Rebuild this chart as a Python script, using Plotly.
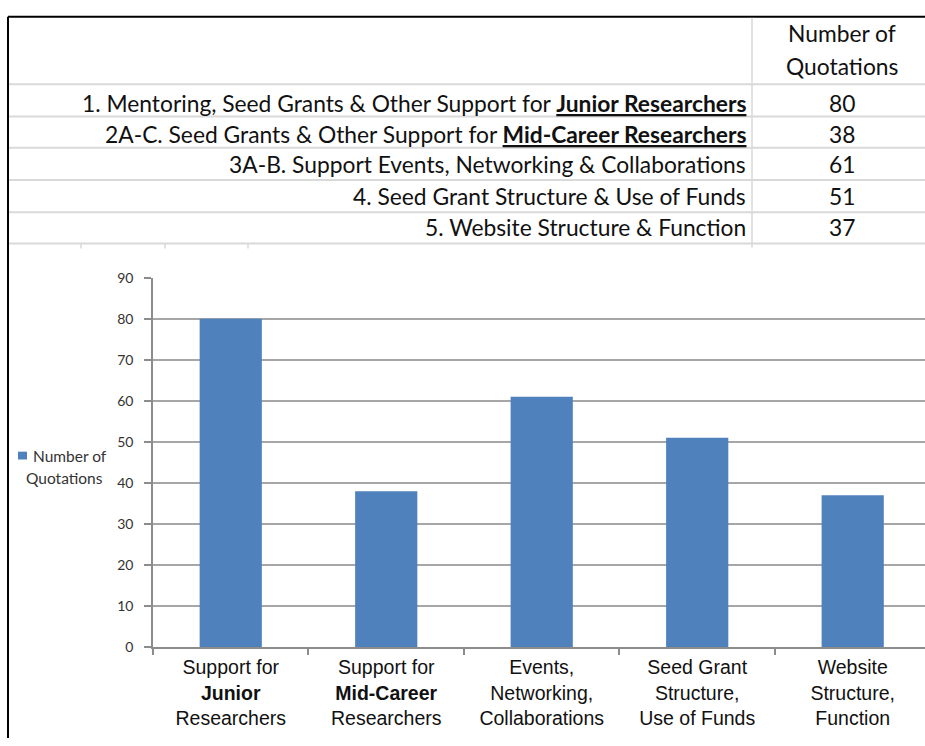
import plotly.graph_objects as go

# ---- data ----
row_labels = [
    "1. Mentoring, Seed Grants &amp; Other Support for <b><u>Junior Researchers</u></b>",
    "2A-C. Seed Grants &amp; Other Support for <b><u>Mid-Career Researchers</u></b>",
    "3A-B. Support Events, Networking &amp; Collaborations",
    "4. Seed Grant Structure &amp; Use of Funds",
    "5. Website Structure &amp; Function",
]
counts = [80, 38, 61, 51, 37]
categories = [
    "Support for<br><b>Junior</b><br>Researchers",
    "Support for<br><b>Mid-Career</b><br>Researchers",
    "Events,<br>Networking,<br>Collaborations",
    "Seed Grant<br>Structure,<br>Use of Funds",
    "Website<br>Structure,<br>Function",
]
header_lines = ["Number of", "Quotations"]
legend_lines = ["Number of", "Quotations"]
series_name = "Number of Quotations"
y_ticks = [0, 10, 20, 30, 40, 50, 60, 70, 80, 90]

W, H = 925, 746
BAR = "#4F81BD"
GRID = "#a6a6a6"
TABLE_FONT = "Lato"
TS = 22.8


def px(x):
    return x / W


def py(y):
    return 1 - y / H


fig = go.Figure()
fig.add_trace(go.Bar(
    x=categories, y=counts, name=series_name, marker_color=BAR,
    marker_line_width=0, width=0.4, showlegend=False,
))

shapes = []
annotations = []

# screenshot borders
shapes.append(dict(type="line", xref="paper", yref="paper", x0=px(8), x1=px(8),
                   y0=py(8), y1=py(746), line=dict(color="black", width=2)))
shapes.append(dict(type="line", xref="paper", yref="paper", x0=px(8), x1=px(925),
                   y0=py(8), y1=py(8), line=dict(color="black", width=2)))

# table grid
row_lines = [77, 110, 142, 175, 208, 240]
for yl in row_lines:
    shapes.append(dict(type="line", xref="paper", yref="paper", x0=px(9), x1=px(925),
                       y0=py(yl), y1=py(yl), line=dict(color="#d9d9d9", width=2)))
shapes.append(dict(type="line", xref="paper", yref="paper", x0=px(752), x1=px(752),
                   y0=py(9), y1=py(244), line=dict(color="#d9d9d9", width=1.5)))
for xl in [81, 165, 248]:
    shapes.append(dict(type="line", xref="paper", yref="paper", x0=px(xl), x1=px(xl),
                       y0=py(240), y1=py(245), line=dict(color="#d9d9d9", width=1.5)))

# header
for txt, yc in zip(header_lines, [25, 58]):
    annotations.append(dict(xref="paper", yref="paper", x=px(842), y=py(yc), text=txt,
                            showarrow=False, xanchor="center", yanchor="middle",
                            font=dict(family=TABLE_FONT, size=TS, color="#111")))
row_centers = [96, 128, 159, 191, 223]
for lab, c, yc in zip(row_labels, counts, row_centers):
    annotations.append(dict(xref="paper", yref="paper", x=px(748), y=py(yc), text=lab,
                            showarrow=False, xanchor="right", yanchor="middle",
                            font=dict(family=TABLE_FONT, size=TS, color="#111")))
    annotations.append(dict(xref="paper", yref="paper", x=px(842), y=py(yc), text=str(c),
                            showarrow=False, xanchor="center", yanchor="middle",
                            font=dict(family=TABLE_FONT, size=TS, color="#111")))

# manual legend
shapes.append(dict(type="rect", xref="paper", yref="paper", x0=px(18), x1=px(27),
                   y0=py(461), y1=py(453), fillcolor=BAR, line=dict(width=0)))
for txt, xl, yc in zip(legend_lines, [31, 24], [457, 480]):
    annotations.append(dict(xref="paper", yref="paper", x=px(xl), y=py(yc), text=txt,
                            showarrow=False, xanchor="left", yanchor="middle",
                            font=dict(family=TABLE_FONT, size=15.5, color="#333")))

fig.update_layout(
    width=W, height=H,
    margin=dict(l=0, r=0, t=0, b=0),
    paper_bgcolor="white", plot_bgcolor="white",
    shapes=shapes, annotations=annotations,
    bargap=0.6,
    xaxis=dict(
        type="category", domain=[px(153), 1], range=[-0.5, 4.465],
        showgrid=False, showline=True, linecolor="#8c8c8c", linewidth=1.5,
        ticks="outside", tickson="boundaries", ticklen=6, tickcolor="#8c8c8c",
        tickwidth=1.5, ticklabelstandoff=2,
        tickfont=dict(family="Liberation Sans", size=19.5, color="#111"),
        zeroline=False, fixedrange=True,
    ),
    yaxis=dict(
        domain=[py(653), py(275)], range=[0, 90], tickvals=y_ticks,
        showgrid=True, gridcolor=GRID, gridwidth=1.5,
        showline=True, linecolor="#8c8c8c", linewidth=1.5,
        ticks="outside", ticklen=7, tickcolor="#8c8c8c", tickwidth=1.5,
        tickfont=dict(family=TABLE_FONT, size=14, color="#333"),
        ticklabelstandoff=8, zeroline=False, fixedrange=True,
    ),
)

fig.write_html("out.html", config={"displayModeBar": False},
               post_script="document.body.style.margin='0';document.body.style.overflow='hidden';")
